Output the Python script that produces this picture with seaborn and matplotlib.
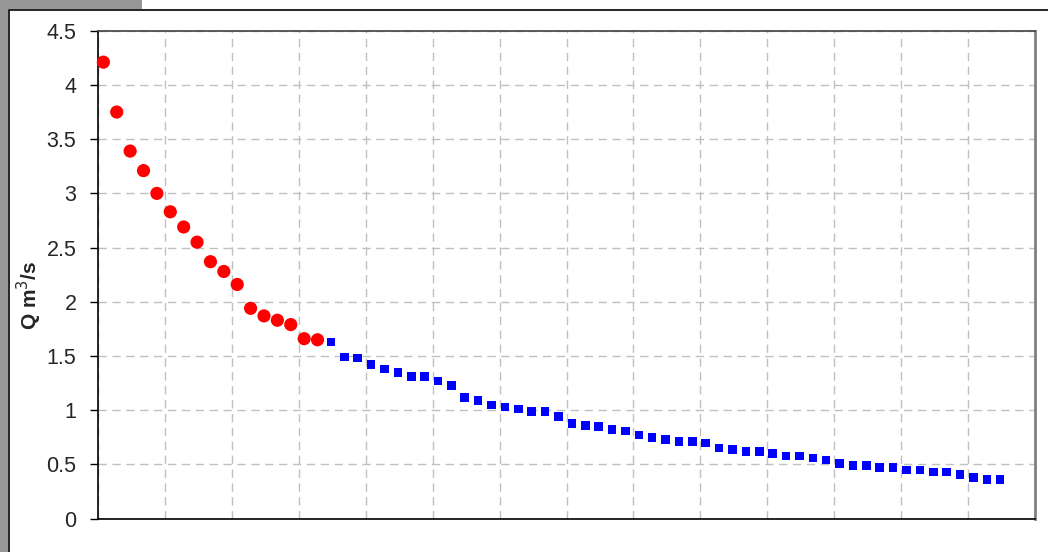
import numpy as np
import pandas as pd
import matplotlib
matplotlib.use("Agg")
import matplotlib.pyplot as plt
from matplotlib.patches import Rectangle
import seaborn as sns

# debite (m3/s)
q_rosu = [4.21, 3.75, 3.39, 3.21, 3.00, 2.83, 2.69, 2.55, 2.37, 2.28,
          2.16, 1.94, 1.87, 1.83, 1.79, 1.66, 1.65]
q_albastru = [1.63, 1.49, 1.48, 1.42, 1.38, 1.35, 1.31, 1.31, 1.27, 1.23,
              1.12, 1.09, 1.05, 1.03, 1.01, 0.99, 0.99, 0.94, 0.88, 0.86,
              0.85, 0.82, 0.81, 0.77, 0.75, 0.73, 0.71, 0.71, 0.70, 0.65,
              0.64, 0.62, 0.62, 0.60, 0.58, 0.58, 0.56, 0.54, 0.51, 0.49,
              0.49, 0.47, 0.47, 0.45, 0.45, 0.43, 0.43, 0.41, 0.38, 0.36,
              0.36]
y_ticks = [0, 0.5, 1, 1.5, 2, 2.5, 3, 3.5, 4, 4.5]

n_r = len(q_rosu)
df_r = pd.DataFrame({"rang": np.arange(n_r), "Q": q_rosu})
df_b = pd.DataFrame({"rang": np.arange(n_r, n_r + len(q_albastru)), "Q": q_albastru})

sns.set_style("white")
plt.rcParams['font.family'] = ['Liberation Sans', 'DejaVu Sans']

fig = plt.figure(figsize=(10.48, 5.52), dpi=100)

# rama gri + zona alba a graficului
fig.patches.append(Rectangle((0, 0), 1, 1, transform=fig.transFigure,
                             facecolor='white', edgecolor='none', zorder=-3))
fig.patches.append(Rectangle((0, 1 - 9 / 552), 142 / 1048, 9 / 552, transform=fig.transFigure,
                             facecolor='#969696', edgecolor='none', zorder=-2))
fig.patches.append(Rectangle((0, 0), 8 / 1048, 1, transform=fig.transFigure,
                             facecolor='#969696', edgecolor='none', zorder=-2))
fig.patches.append(Rectangle((8.5 / 1048, -0.1), 1.1, 1 - 9.5 / 552 + 0.1, transform=fig.transFigure,
                             facecolor='white', edgecolor='black', linewidth=1.2, zorder=-1))

ax = fig.add_axes([98 / 1048, 1 - 518.7 / 552, (1035 - 98) / 1048, 488 / 552])

sns.scatterplot(data=df_r, x="rang", y="Q", ax=ax, color='#ff0000', marker='o',
                s=90, edgecolor='none', zorder=3, clip_on=False)
sns.scatterplot(data=df_b, x="rang", y="Q", ax=ax, color='#0000ff', marker='s',
                s=38, edgecolor='none', zorder=3, clip_on=False)

ax.set_xlim(-0.4, 69.6)
ax.set_ylim(0, 4.5)
ax.set_xticks(np.arange(-0.4, 69.7, 5))
ax.set_xticklabels([])
ax.set_yticks(y_ticks)
ax.set_yticklabels([f"{v:g}" for v in y_ticks], fontsize=15.5)
ax.tick_params(axis='x', length=0, bottom=False)
ax.tick_params(axis='y', length=5.5, width=1, color='black', direction='out', pad=10, left=True)

ax.grid(True, color='#c0c0c0', linestyle=(0, (6, 4)), linewidth=1)
ax.set_axisbelow(True)

for s in ['left', 'bottom']:
    ax.spines[s].set_color('black')
    ax.spines[s].set_linewidth(1.2)
ax.spines['top'].set_color('#404040')
ax.spines['top'].set_linewidth(1.2)
ax.spines['right'].set_color('#808080')
ax.spines['right'].set_linewidth(2)

ax.set_xlabel('')
ax.set_ylabel('Q m$^3$/s', fontsize=15, fontweight='bold')
ax.yaxis.set_label_coords(-54 / 937, (519 - 296) / 488)

fig.savefig('out.png', dpi=100)
